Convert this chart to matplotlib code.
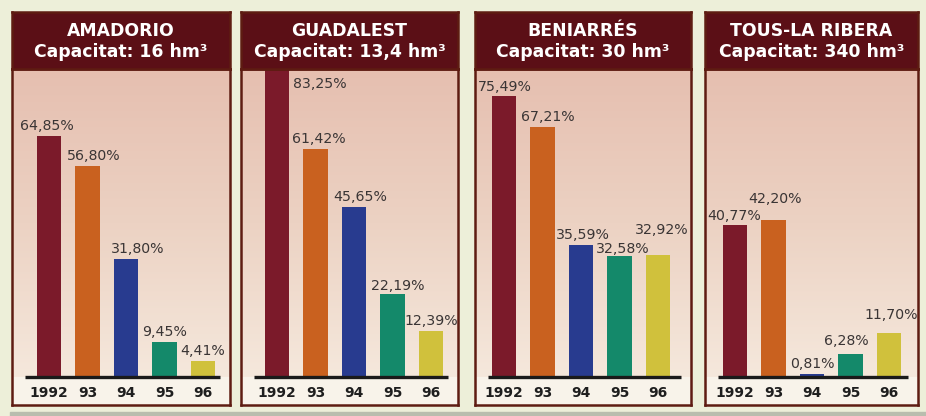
import numpy as np
import matplotlib
matplotlib.use("Agg")
import matplotlib.pyplot as plt
from matplotlib.colors import LinearSegmentedColormap
from matplotlib.patches import Rectangle

# data
years = ["1992", "93", "94", "95", "96"]
reservoirs = ["AMADORIO", "GUADALEST", "BENIARRÉS", "TOUS-LA RIBERA"]
capacities = ["16", "13,4", "30", "340"]
amadorio = [64.85, 56.80, 31.80, 9.45, 4.41]
guadalest = [83.25, 61.42, 45.65, 22.19, 12.39]
beniarres = [75.49, 67.21, 35.59, 32.58, 32.92]
tous = [40.77, 42.20, 0.81, 6.28, 11.70]
values = [amadorio, guadalest, beniarres, tous]

bar_colors = ["#7b1a2a", "#c9611f", "#283b8f", "#14896a", "#d0c13c"]
maroon = "#5b0f16"
border = "#5e1c12"

W, H = 926, 416
fig = plt.figure(figsize=(W / 100, H / 100), dpi=100)
fig.patch.set_facecolor("#edefd9")
# greyish strip along the bottom edge of the scan
fig.patches.append(Rectangle((10 / W, 0), 1, 4 / H, transform=fig.transFigure,
                             color="#b9bdae", zorder=0))

# panel geometry in pixels (left, right), first bar offset
panels = [(12, 230, 37), (241, 458, 36), (475, 691, 29), (705, 918, 30)]
top, head_bot, base_y, bottom = 12, 69, 377, 405
px_per_pct = 3.72
step = 38.5

# small manual nudges for label positions (dx in bar units, dy in %)
label_nudge = [
    [(-0.05, 0), (0.15, 0), (0.3, 0), (0, 0), (0, 0)],
    [(1.12, -7.2), (0.08, 0), (0.15, 0), (0.13, -0.3), (0, 0)],
    [(0.03, -0.3), (0.13, 0), (0.05, 0), (0.08, -0.8), (0.1, 4.0)],
    [(-0.03, -0.2), (0.03, 3.0), (0, 0), (-0.1, 0.8), (0.05, 2.4)],
]

cmap = LinearSegmentedColormap.from_list("bg", ["#f5e8dc", "#ecd2c3", "#e6bfb0"])


def fx(px):
    return px / W


def fy(py):
    return 1 - py / H


for k, (x0, x1, off) in enumerate(panels):
    pw = x1 - x0
    # plot area
    ax = fig.add_axes([fx(x0), fy(bottom), fx(pw), (bottom - head_bot) / H])
    xl = -off / step
    xr = (pw - off) / step
    ylo = -(bottom - base_y) / px_per_pct
    yhi = (base_y - head_bot) / px_per_pct
    ax.set_xlim(xl, xr)
    ax.set_ylim(ylo, yhi)
    ax.set_facecolor("#f8f3ea")
    grad = np.linspace(0, 1, 200).reshape(-1, 1)
    ax.imshow(grad, extent=[xl, xr, 0, yhi], origin="lower", cmap=cmap,
              aspect="auto", zorder=0)
    x = np.arange(len(years))
    ax.bar(x, values[k], width=0.64, color=bar_colors, zorder=2)
    ax.plot([xl + 13 / step, xr - 10 / step], [0, 0], color="#1a1a1a", lw=2.4,
            zorder=3, solid_capstyle="butt")
    for i, v in enumerate(values[k]):
        dx, dy = label_nudge[k][i]
        ax.text(i + dx, v + 0.8 + dy, f"{v:.2f}%".replace(".", ","),
                ha="center", va="bottom", fontsize=10.2, color="#3a3535", zorder=4)
        ax.text(i, -4.3, years[i], ha="center", va="center", fontsize=10,
                fontweight="bold", color="#1e1e1e", zorder=4)
    ax.set_xticks([])
    ax.set_yticks([])
    for s in ax.spines.values():
        s.set_color(border)
        s.set_linewidth(1.8)

    # header
    hx = fig.add_axes([fx(x0), fy(head_bot), fx(pw), (head_bot - top) / H])
    hx.set_facecolor(maroon)
    hx.set_xticks([])
    hx.set_yticks([])
    for s in hx.spines.values():
        s.set_color(border)
        s.set_linewidth(1.8)
    hx.text(0.5, 0.67, reservoirs[k], ha="center", va="center", color="white",
            fontsize=12.4, fontweight="bold", transform=hx.transAxes)
    hx.text(0.5, 0.29, f"Capacitat: {capacities[k]} hm³", ha="center",
            va="center", color="white", fontsize=12.4, fontweight="bold",
            transform=hx.transAxes)

fig.savefig("out.png", dpi=100, facecolor=fig.get_facecolor())
